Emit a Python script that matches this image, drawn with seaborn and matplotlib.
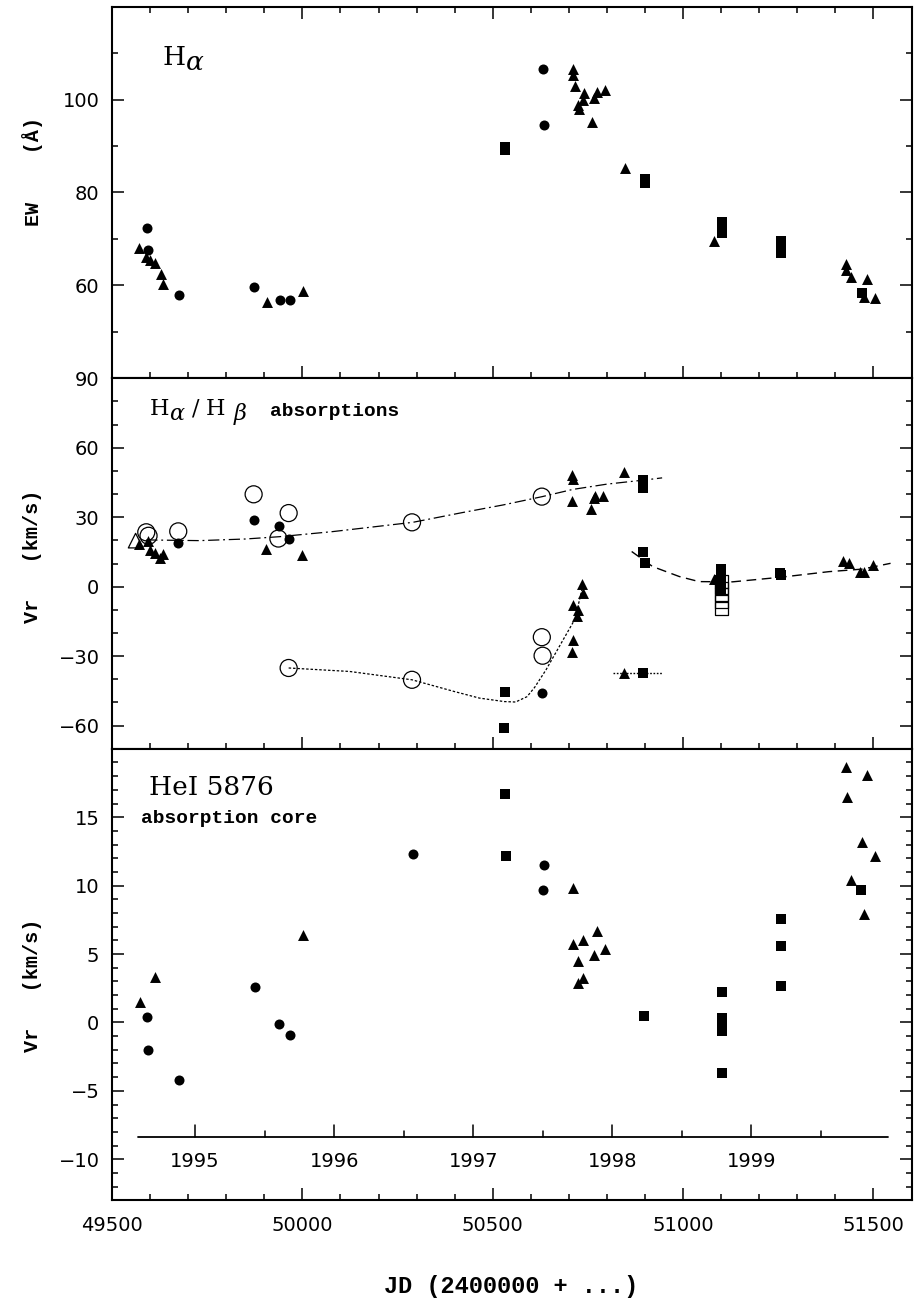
import numpy as np
import pandas as pd
import matplotlib
matplotlib.use("Agg")
import matplotlib.pyplot as plt
from matplotlib.ticker import MultipleLocator, FixedLocator
import seaborn as sns

# ---------------- data (JD - 2400000) ----------------
# Panel 1: H-alpha equivalent width
ew_tri_jd = [49572, 49590, 49599, 49614, 49628, 49635, 49907, 50002, 50712, 50710,
             50715, 50739, 50737, 50724, 50727, 50773, 50766, 50794, 50761, 50848,
             51082, 51428, 51427, 51440, 51483, 51475, 51504]
ew_tri = [68.1, 66.2, 65.4, 64.8, 62.5, 60.2, 56.5, 58.7, 106.5, 105.3,
          103.0, 101.4, 100.0, 98.9, 97.9, 101.6, 100.3, 102.1, 95.2, 85.2,
          69.5, 64.6, 63.3, 61.9, 61.3, 57.6, 57.3]
ew_circ_jd = [49592, 49594, 49675, 49874, 49940, 49967, 50631, 50634]
ew_circ = [72.3, 67.6, 57.9, 59.7, 56.9, 56.9, 106.6, 94.6]
ew_sq_jd = [50532, 50532, 50900, 50900, 51102, 51102, 51102, 51257, 51257, 51257, 51469]
ew_sq = [89.2, 89.9, 83.0, 82.1, 73.6, 72.4, 71.3, 69.5, 68.3, 67.0, 58.3]

# Panel 2: H-alpha / H-beta absorption velocities
ab_tri_jd = [49572, 49594, 49599, 49614, 49627, 49635, 49904, 50000, 50707, 50710,
             50709, 50758, 50766, 50768, 50790, 50846, 50734, 50736, 50712, 50724,
             50721, 50710, 50708, 50846, 51080, 51092, 51421, 51436, 51465, 51476, 51500]
ab_tri = [18.5, 19.9, 15.9, 14.5, 12.2, 14.0, 16.4, 13.6, 48.4, 46.4,
          37.1, 33.4, 38.3, 39.2, 39.3, 49.4, 1.1, -2.8, -7.8, -10.0,
          -12.6, -22.9, -28.0, -37.2, 3.2, 3.5, 11.3, 10.4, 6.5, 6.5, 9.4]
ab_circ_jd = [49674, 49872, 49938, 49964, 50630]
ab_circ = [18.9, 29.0, 26.1, 20.8, -45.9]
ab_ocirc_jd = [49590, 49596, 49674, 49872, 49964, 49937, 50288, 50629, 49964, 50288, 50629, 50631]
ab_ocirc = [23.5, 22.0, 23.9, 39.9, 31.8, 20.8, 27.8, 38.9, -35.1, -40.2, -21.8, -29.8]
ab_otri_jd = [49562]
ab_otri = [19.9]
ab_sq_jd = [50895, 50895, 50895, 50895, 50900, 50532, 50530, 50895,
            51099, 51099, 51100, 51100, 51254, 51256]
ab_sq = [46.0, 44.0, 42.5, 14.9, 10.1, -45.6, -61.0, -37.2,
         7.8, 4.4, 1.5, -1.4, 5.8, 5.0]
ab_osq_jd = [51101, 51101, 51101, 51101, 51101]
ab_osq = [2.3, -0.6, -3.5, -6.4, -9.3]

# fitted curves
up_curve_jd = [49590, 49730, 49850, 49940, 50080, 50290, 50420, 50527, 50630, 50710, 50800, 50900, 50945]
up_curve_vr = [20.2, 19.9, 20.6, 21.6, 23.8, 27.8, 32.0, 35.3, 38.9, 42.0, 44.3, 46.1, 47.0]
lo_curve_jd = [49964, 50124, 50288, 50400, 50465, 50530, 50560, 50590, 50610, 50640, 50675, 50715, 50728, 50736]
lo_curve_vr = [-35.1, -36.6, -40.2, -45.3, -48.1, -49.6, -49.8, -47.5, -43.5, -35.9, -25.8, -14.3, -5.7, 0.0]
rt_curve_jd = [50865, 50920, 50990, 51042, 51130, 51257, 51383, 51471, 51545]
rt_curve_vr = [15.2, 8.7, 4.4, 2.2, 2.1, 4.1, 6.5, 7.6, 10.1]
seg_jd = [50815, 50945]
seg_vr = [-37.2, -37.2]

# Panel 3: HeI 5876 absorption core velocities
he_tri_jd = [49574, 49614, 50001, 50712, 50773, 50710, 50738, 50794, 50767, 50724,
             50738, 50725, 51429, 51484, 51430, 51470, 51505, 51440, 51475]
he_tri = [1.5, 3.3, 6.4, 9.8, 6.7, 5.75, 6.05, 5.4, 4.95, 4.5,
          3.25, 2.9, 18.7, 18.1, 16.5, 13.2, 12.2, 10.4, 7.9]
he_circ_jd = [49593, 49595, 49675, 49875, 49939, 49967, 50291, 50634, 50631]
he_circ = [0.4, -2.05, -4.2, 2.6, -0.12, -0.92, 12.3, 11.5, 9.7]
he_sq_jd = [50531, 50534, 50897, 51101, 51101, 51101, 51101, 51101, 51256, 51258, 51258, 51468]
he_sq = [16.7, 12.2, 0.47, 2.22, 0.3, 0.05, -0.63, -3.7, 7.57, 5.56, 2.63, 9.7]

years = [1995, 1996, 1997, 1998, 1999]
year_labels = ["1995", "1996", "1997", "1998", "1999"]
x_ticks = [49500, 50000, 50500, 51000, 51500]

# ---------------- figure ----------------
sns.set_style("ticks")
plt.rcParams["font.family"] = ["DejaVu Sans"]
plt.rcParams["mathtext.fontset"] = "dejavuserif"
for k in ["text.color", "axes.labelcolor", "xtick.color", "ytick.color",
          "axes.edgecolor", "xtick.labelcolor", "ytick.labelcolor"]:
    plt.rcParams[k] = "black"

fig = plt.figure(figsize=(9.16, 13.09), dpi=100)
H = 1309.0
L = 112.0 / 916
W = (911.5 - 112.0) / 916
ax1 = fig.add_axes([L, 1 - 378.3 / H, W, (378.3 - 6.7) / H])
ax2 = fig.add_axes([L, 1 - 748.8 / H, W, (748.8 - 378.3) / H])
ax3 = fig.add_axes([L, 1 - 1200.3 / H, W, (1200.3 - 748.8) / H])


def filled(ax, x, y, marker, s):
    sns.scatterplot(x=x, y=y, ax=ax, marker=marker, s=s, color="black",
                    edgecolor="black", linewidth=0, zorder=4, legend=False)


def hollow(ax, x, y, marker, s, lw=0.9):
    sns.scatterplot(x=x, y=y, ax=ax, marker=marker, s=s, facecolor="none",
                    edgecolor="black", linewidth=lw, zorder=4, legend=False)


def curve(ax, x, y, ls, lw=0.9):
    sns.lineplot(x=x, y=y, ax=ax, color="black", linestyle=ls, linewidth=lw,
                 sort=False, estimator=None, zorder=2, legend=False)


S_TRI, S_CIR, S_SQ = 62, 52, 50

# panel 1
filled(ax1, ew_tri_jd, ew_tri, "^", S_TRI)
filled(ax1, ew_circ_jd, ew_circ, "o", S_CIR)
filled(ax1, ew_sq_jd, ew_sq, "s", S_SQ)

# panel 2
curve(ax2, up_curve_jd, up_curve_vr, (0, (9, 3, 1.5, 3)), 0.9)
curve(ax2, lo_curve_jd, lo_curve_vr, (0, (2, 1.5)), 0.9)
curve(ax2, rt_curve_jd, rt_curve_vr, (0, (7, 4)), 1.0)
curve(ax2, seg_jd, seg_vr, (0, (1.2, 1.2)), 1.0)
hollow(ax2, ab_ocirc_jd, ab_ocirc, "o", 150)
hollow(ax2, ab_otri_jd, ab_otri, "^", 110)
hollow(ax2, ab_osq_jd, ab_osq, "s", 85)
filled(ax2, ab_tri_jd, ab_tri, "^", S_TRI)
filled(ax2, ab_circ_jd, ab_circ, "o", S_CIR)
filled(ax2, ab_sq_jd, ab_sq, "s", S_SQ)

# panel 3
filled(ax3, he_tri_jd, he_tri, "^", S_TRI)
filled(ax3, he_circ_jd, he_circ, "o", S_CIR)
filled(ax3, he_sq_jd, he_sq, "s", S_SQ)

# year scale inside panel 3
yl = -8.35
year_jd = [49718.5 + (yr - 1995) * 365.25 for yr in years]
half_jd = [j + 182.6 for j in year_jd]
ax3.plot([49568, 51538], [yl, yl], color="black", lw=1.3, zorder=3)
for j, lab in zip(year_jd, year_labels):
    ax3.plot([j, j], [yl, yl + 0.85], color="black", lw=1.1, zorder=3)
    ax3.text(j, -10.17, lab, ha="center", va="center", fontsize=14,
             family="DejaVu Sans", color="black")
for j in half_jd:
    ax3.plot([j, j], [yl, yl + 0.45], color="black", lw=1.1, zorder=3)


def style(ax, ylim, majors, minor, labelx, top):
    ax.set_xlim(49500, 51600)
    ax.set_ylim(*ylim)
    ax.xaxis.set_major_locator(FixedLocator(x_ticks))
    ax.xaxis.set_minor_locator(MultipleLocator(100))
    ax.yaxis.set_major_locator(FixedLocator(majors))
    ax.yaxis.set_minor_locator(MultipleLocator(minor))
    ax.tick_params(which="both", direction="in", top=top, right=True,
                   bottom=True, left=True, width=1.1, color="black",
                   labelcolor="black")
    ax.tick_params(which="major", length=8.5)
    ax.tick_params(which="minor", length=4.3)
    ax.tick_params(axis="y", labelsize=14, pad=9)
    ax.tick_params(axis="x", labelsize=14, pad=11, labelbottom=labelx)
    for sp in ax.spines.values():
        sp.set_linewidth(1.5)
        sp.set_color("black")
    ax.set_xlabel("")
    ax.set_ylabel("")


style(ax1, (40, 120), [60, 80, 100], 10, False, True)
style(ax2, (-70, 90), [-60, -30, 0, 30, 60, 90], 10, False, False)
style(ax3, (-13, 20), [-10, -5, 0, 5, 10, 15], 1, True, False)
ax3.set_xticklabels([str(t) for t in x_ticks])

# panel annotations
serif = "DejaVu Serif"
mono = "Liberation Mono"
kw = dict(color="black", va="baseline")
ax1.text(0.0635, 0.843, "H", transform=ax1.transAxes, family=serif, fontsize=19, **kw)
ax1.text(0.0927, 0.8297, "α", transform=ax1.transAxes, family=serif, style="italic", fontsize=19, **kw)

ax2.text(0.0468, 0.901, "H", transform=ax2.transAxes, family=serif, fontsize=16, **kw)
ax2.text(0.0718, 0.8874, "α", transform=ax2.transAxes, family=serif, style="italic", fontsize=16, **kw)
ax2.text(0.0998, 0.901, "/", transform=ax2.transAxes, family=serif, fontsize=16, **kw)
ax2.text(0.1177, 0.901, "H", transform=ax2.transAxes, family=serif, fontsize=16, **kw)
ax2.text(0.1518, 0.8874, "β", transform=ax2.transAxes, family=serif, style="italic", fontsize=16, **kw)
ax2.text(0.198, 0.899, "absorptions", transform=ax2.transAxes, family=mono, weight="bold", fontsize=14, **kw)

ax3.text(0.0468, 0.8977, "HeI 5876", transform=ax3.transAxes, family=serif, fontsize=19, **kw)
ax3.text(0.036, 0.835, "absorption core", transform=ax3.transAxes, family=mono, weight="bold", fontsize=14, **kw)

# axis labels
lab = dict(rotation=90, family=mono, weight="bold", fontsize=14.5, ha="center",
           va="center", color="black")
fig.text(0.036, 1 - 171.5 / H, "EW    (Å)", **lab)
fig.text(0.036, 1 - 556 / H, "Vr   (km/s)", **lab)
fig.text(0.036, 1 - 985 / H, "Vr   (km/s)", **lab)
fig.text(511.5 / 916, 1 - 1287 / H, "JD (2400000 + ...)", family=mono, weight="bold",
         fontsize=17, ha="center", va="center", color="black")

fig.savefig("out.png", dpi=100)
